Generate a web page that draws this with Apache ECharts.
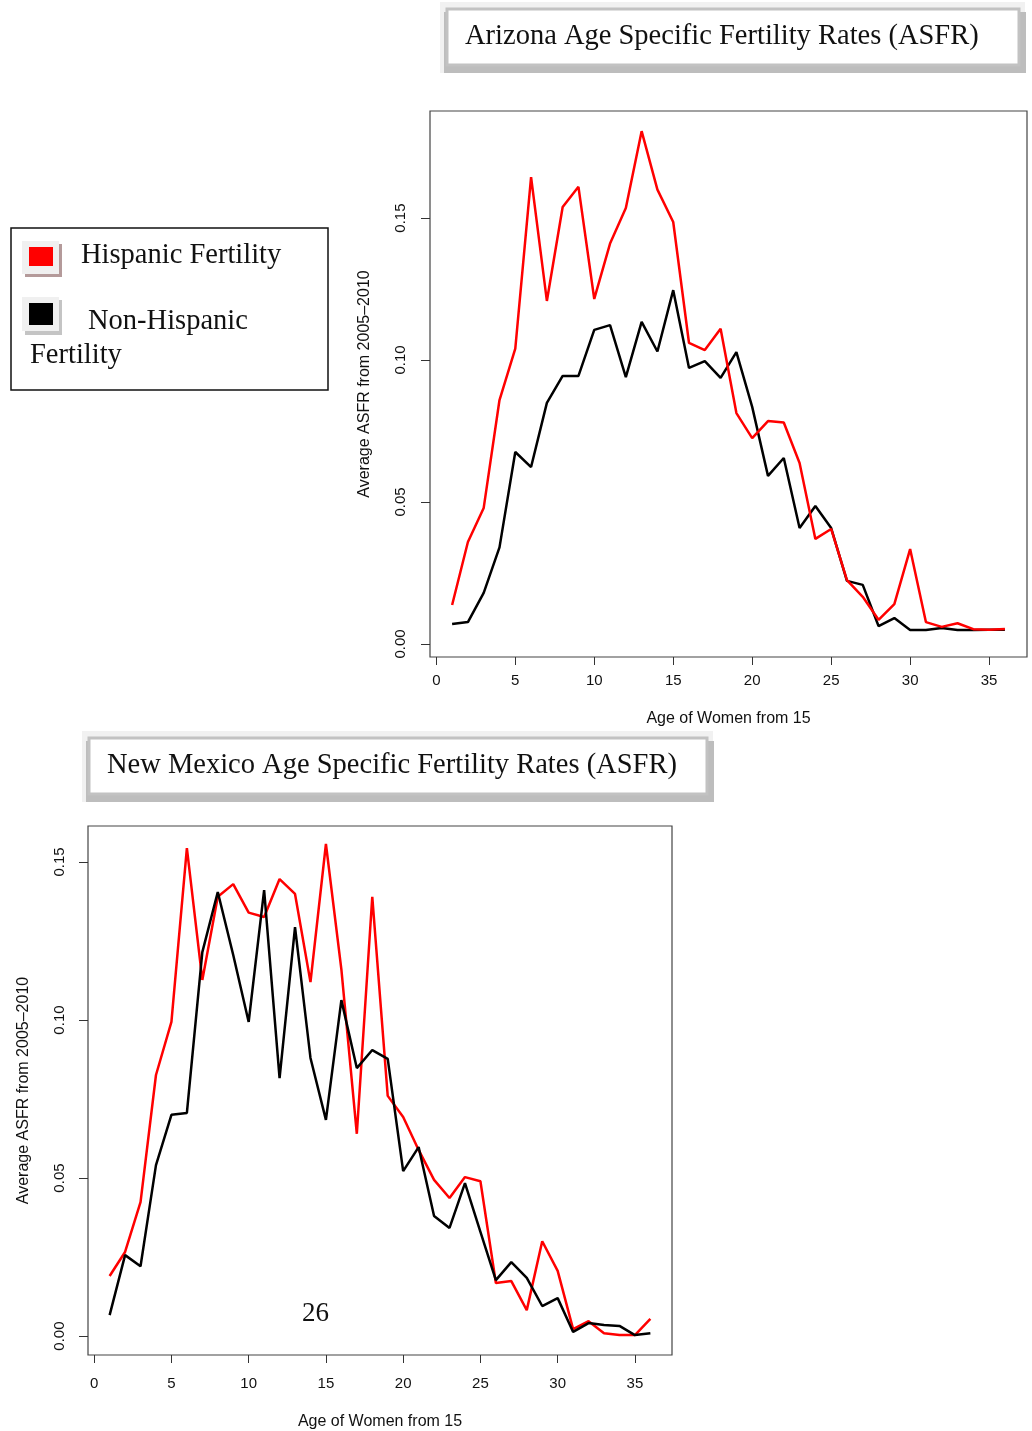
<!DOCTYPE html>
<html>
<head>
<meta charset="utf-8">
<script src="https://cdn.jsdelivr.net/npm/echarts@6/dist/echarts.min.js"></script>
<style>
html,body{margin:0;padding:0;background:#fff;}
#chart{width:1032px;height:1431px;}
</style>
</head>
<body>
<div id="chart"></div>
<script>
// Age index (age of women from 15)
var ages = [1,2,3,4,5,6,7,8,9,10,11,12,13,14,15,16,17,18,19,20,21,22,23,24,25,26,27,28,29,30,31,32,33,34,35,36];
var xTicks = [0,5,10,15,20,25,30,35];
var yTicks = [0,0.05,0.10,0.15];

// Arizona
var azHispanic = [0.0137,0.0359,0.0479,0.0859,0.104,0.1644,0.1208,0.1539,0.161,0.1215,0.141,0.1535,0.1806,0.160,0.1486,0.106,0.1035,0.111,0.0813,0.0725,0.0785,0.078,0.0637,0.037,0.0405,0.0225,0.0166,0.0085,0.014,0.0334,0.0077,0.006,0.0073,0.0052,0.005,0.0053];
var azNonHispanic = [0.007,0.0077,0.018,0.034,0.0676,0.0623,0.0849,0.0944,0.0944,0.1106,0.1123,0.094,0.1134,0.103,0.1246,0.0972,0.0996,0.0937,0.1028,0.0835,0.0592,0.0655,0.0408,0.0486,0.0408,0.0222,0.0208,0.0063,0.0091,0.0049,0.0049,0.0056,0.0049,0.0049,0.005,0.005];

// New Mexico
var nmHispanic = [0.019,0.0266,0.0424,0.0826,0.0994,0.1544,0.1127,0.139,0.143,0.134,0.1326,0.1446,0.1399,0.112,0.1557,0.116,0.064,0.139,0.076,0.0693,0.0589,0.0494,0.0437,0.0503,0.049,0.0168,0.0174,0.0082,0.030,0.0206,0.0022,0.0047,0.0009,0.0003,0.0003,0.0054];
var nmNonHispanic = [0.0066,0.0256,0.0221,0.0541,0.070,0.0706,0.1215,0.1405,0.1206,0.0994,0.1411,0.0816,0.1294,0.088,0.0684,0.1063,0.0848,0.0905,0.0877,0.0522,0.0598,0.038,0.0342,0.0484,0.033,0.0177,0.0234,0.0184,0.0095,0.012,0.0013,0.0041,0.0035,0.0032,0.0003,0.0009];

var titles = ['Arizona Age Specific Fertility Rates (ASFR)','New Mexico Age Specific Fertility Rates (ASFR)'];
var legendNames = ['Hispanic Fertility','Non-Hispanic','Fertility'];
var xName = 'Age of Women from 15';
var yName = 'Average ASFR from 2005\u20132010';
var pageNumber = '26';

function pairs(vals){ return ages.map(function(a,i){ return [a, vals[i]]; }); }

var sans = 'Liberation Sans, Arial, sans-serif';
var serif = 'Liberation Serif, Times New Roman, serif';
var serifFont = '28.5px ' + serif;

function xAxis(gi, labelMargin, nameGap){
  return {
    type:'value', gridIndex:gi, min:-0.4, max:37.4,
    axisLine:{show:false, onZero:false},
    splitLine:{show:false},
    axisTick:{show:true, length:8, customValues:xTicks, lineStyle:{color:'#333', width:1}},
    axisLabel:{customValues:xTicks, color:'#111', fontFamily:sans, fontSize:15, margin:labelMargin},
    name:xName, nameLocation:'middle', nameGap:nameGap,
    nameTextStyle:{color:'#111', fontFamily:sans, fontSize:16}
  };
}
function yAxis(gi, mn, mx, labelMargin, nameGap){
  return {
    type:'value', gridIndex:gi, min:mn, max:mx,
    axisLine:{show:false, onZero:false},
    splitLine:{show:false},
    axisTick:{show:true, length:9, customValues:yTicks, lineStyle:{color:'#333', width:1}},
    axisLabel:{customValues:yTicks, rotate:90, color:'#111', fontFamily:sans, fontSize:15, margin:labelMargin,
      formatter:function(v){ return v.toFixed(2); }},
    name:yName, nameLocation:'middle', nameGap:nameGap, nameRotate:90,
    nameTextStyle:{color:'#111', fontFamily:sans, fontSize:16}
  };
}

function titleBox(x, y, w, h, text){
  return [
    {type:'rect', shape:{x:x, y:y, width:w, height:h}, style:{fill:'#f1f1f1'}, silent:true},
    {type:'rect', shape:{x:x+4, y:y+10, width:w-3, height:h-10}, style:{fill:'#bdbdbd'}, silent:true},
    {type:'rect', shape:{x:x+7, y:y+7, width:w-13, height:h-15}, style:{fill:'#fff', stroke:'#c2c2c2', lineWidth:3}, silent:true},
    {type:'text', x:x+25, y:y+7+(h-15)/2, style:{text:text, font:serifFont, fill:'#111', textVerticalAlign:'middle', verticalAlign:'middle'}, silent:true}
  ];
}

var graphics = [];
graphics = graphics.concat(titleBox(440, 2, 585, 71, titles[0]));
graphics = graphics.concat(titleBox(82, 731, 631, 71, titles[1]));
// legend
graphics.push({type:'rect', shape:{x:11, y:228, width:317, height:162}, style:{fill:'#fff', stroke:'#111', lineWidth:1.5}});
graphics.push({type:'rect', shape:{x:25, y:244, width:37, height:33}, style:{fill:'#b49a9a'}});
graphics.push({type:'rect', shape:{x:22, y:241, width:37, height:33}, style:{fill:'#f0f0f0'}});
graphics.push({type:'rect', shape:{x:29, y:247, width:24, height:19}, style:{fill:'#ff0000'}});
graphics.push({type:'rect', shape:{x:25, y:300, width:37, height:35}, style:{fill:'#c4c4c4'}});
graphics.push({type:'rect', shape:{x:22, y:297, width:37, height:34}, style:{fill:'#f0f0f0'}});
graphics.push({type:'rect', shape:{x:29, y:303, width:24, height:22}, style:{fill:'#000'}});
graphics.push({type:'text', x:81, y:256, style:{text:legendNames[0], font:serifFont, fill:'#111', verticalAlign:'middle', textVerticalAlign:'middle'}});
graphics.push({type:'text', x:88, y:322, style:{text:legendNames[1], font:serifFont, fill:'#111', verticalAlign:'middle', textVerticalAlign:'middle'}});
graphics.push({type:'text', x:30, y:356, style:{text:legendNames[2], font:serifFont, fill:'#111', verticalAlign:'middle', textVerticalAlign:'middle'}});
// page number
graphics.push({type:'text', x:302, y:1314, style:{text:pageNumber, font:'27px ' + serif, fill:'#111', verticalAlign:'middle', textVerticalAlign:'middle'}});

var chart = echarts.init(document.getElementById('chart'), null, {renderer:'canvas'});
chart.setOption({
  backgroundColor:'#fff',
  animation:false,
  grid:[
    {left:430, top:111, width:597, height:546, show:true, borderColor:'#444', borderWidth:1.2, backgroundColor:'transparent'},
    {left:88, top:826, width:584, height:529, show:true, borderColor:'#444', borderWidth:1.2, backgroundColor:'transparent'}
  ],
  xAxis:[xAxis(0, 16, 54), xAxis(1, 21, 59)],
  yAxis:[yAxis(0, -0.0046, 0.1877, 22, 57), yAxis(1, -0.006, 0.1614, 21, 56)],
  series:[
    {type:'line', xAxisIndex:0, yAxisIndex:0, data:pairs(azNonHispanic), showSymbol:false, lineStyle:{color:'#000', width:2.5}, itemStyle:{color:'#000'}, z:2},
    {type:'line', xAxisIndex:0, yAxisIndex:0, data:pairs(azHispanic), showSymbol:false, lineStyle:{color:'#ff0000', width:2.5}, itemStyle:{color:'#ff0000'}, z:3},
    {type:'line', xAxisIndex:1, yAxisIndex:1, data:pairs(nmHispanic), showSymbol:false, lineStyle:{color:'#ff0000', width:2.5}, itemStyle:{color:'#ff0000'}, z:2},
    {type:'line', xAxisIndex:1, yAxisIndex:1, data:pairs(nmNonHispanic), showSymbol:false, lineStyle:{color:'#000', width:2.5}, itemStyle:{color:'#000'}, z:3}
  ],
  graphic:graphics
});
</script>
</body>
</html>
